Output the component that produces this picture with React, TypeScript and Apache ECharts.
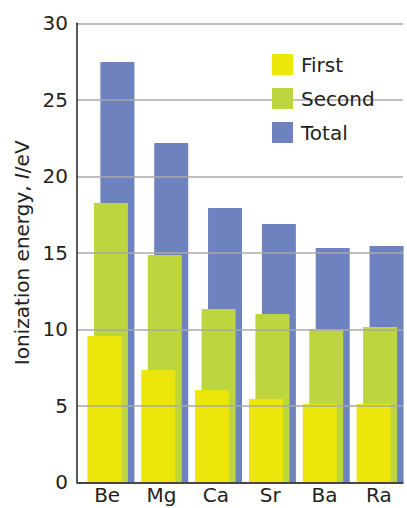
import React, { useEffect, useRef } from "react";
import * as echarts from "echarts";

const categories = ["Be", "Mg", "Ca", "Sr", "Ba", "Ra"];
const firstIE = [9.56, 7.34, 6.03, 5.44, 5.12, 5.12];
const secondIE = [18.25, 14.86, 11.33, 11.0, 10.02, 10.15];
const totalIE = [27.47, 22.18, 17.93, 16.88, 15.31, 15.44];
const seriesNames = ["First", "Second", "Total"];
const yTicks = { min: 0, max: 30, interval: 5 };

const FONT = "'DejaVu Sans', sans-serif";
const C_YELLOW = "#ECE60A";
const C_GREEN = "#BDD63F";
const C_BLUE = "#6E82C0";
const C_GRID = "#A8A8A8";
const C_AXIS = "#231F20";
const FS = 20;

export default function App() {
  const ref = useRef<HTMLDivElement>(null);
  useEffect(() => {
    if (!ref.current) return;
    const chart = echarts.init(ref.current, undefined, { renderer: "svg" });
    const gridTop = 23.3;
    const gridBottom = 508 - 482.3;
    chart.setOption({
      animation: false,
      backgroundColor: "#fff",
      textStyle: { fontFamily: FONT },
      grid: [
        { left: 77, width: 326, top: gridTop, bottom: gridBottom, containLabel: false },
        { left: 84, width: 326, top: gridTop, bottom: gridBottom, containLabel: false },
      ],
      legend: {
        orient: "vertical",
        left: 267,
        top: 49,
        itemWidth: 21,
        itemHeight: 21,
        itemGap: 13,
        icon: "rect",
        data: seriesNames,
        textStyle: { fontSize: FS, color: C_AXIS, fontFamily: FONT, padding: [0, 0, 0, 3] },
        z: 10,
      },
      graphic: [
        {
          type: "rect",
          z: 1,
          shape: { x: 233, y: 40, width: 174, height: 120 },
          style: { fill: "#fff" },
        },
      ],
      xAxis: [
        {
          type: "category",
          gridIndex: 0,
          data: categories,
          axisLine: { lineStyle: { color: C_AXIS, width: 1.5 } },
          axisTick: { show: false },
          axisLabel: {
            fontSize: FS,
            color: C_AXIS,
            margin: 3,
            lineHeight: 20,
            fontFamily: FONT,
            padding: [0, 0, 0, 6],
          },
          z: 5,
        },
        {
          type: "category",
          gridIndex: 1,
          data: categories,
          show: false,
        },
      ],
      yAxis: [
        {
          type: "value",
          gridIndex: 0,
          min: yTicks.min,
          max: yTicks.max,
          interval: yTicks.interval,
          axisLine: { show: true, lineStyle: { color: C_AXIS, width: 1.5 } },
          axisTick: { show: false },
          splitLine: { lineStyle: { color: C_GRID, width: 1.5 } },
          axisLabel: { fontSize: FS, color: C_AXIS, margin: 9, fontFamily: FONT },
          name: "Ionization energy, {i|I}/eV",
          nameLocation: "middle",
          nameGap: 45,
          nameTextStyle: {
            fontSize: FS,
            color: C_AXIS,
            fontFamily: FONT,
            rich: { i: { fontSize: FS, fontStyle: "italic", color: C_AXIS, fontFamily: FONT } },
          },
          z: 5,
        },
        {
          type: "value",
          gridIndex: 1,
          min: yTicks.min,
          max: yTicks.max,
          interval: yTicks.interval,
          show: false,
          splitLine: { show: false },
        },
      ],
      series: [
        {
          name: "First",
          type: "bar",
          xAxisIndex: 1,
          yAxisIndex: 1,
          data: firstIE,
          barWidth: 34,
          barGap: "-81%",
          itemStyle: { color: C_YELLOW },
          z: 4,
        },
        {
          name: "Second",
          type: "bar",
          xAxisIndex: 1,
          yAxisIndex: 1,
          data: secondIE,
          barWidth: 34,
          barGap: "-81%",
          itemStyle: { color: C_GREEN },
          z: 3,
        },
        {
          name: "Total",
          type: "bar",
          xAxisIndex: 1,
          yAxisIndex: 1,
          data: totalIE,
          barWidth: 34,
          barGap: "-81%",
          itemStyle: { color: C_BLUE },
          z: 2,
        },
      ],
    });
    return () => chart.dispose();
  }, []);
  return <div ref={ref} style={{ width: 407, height: 508, position: "absolute", left: 0, top: 0 }} />;
}
